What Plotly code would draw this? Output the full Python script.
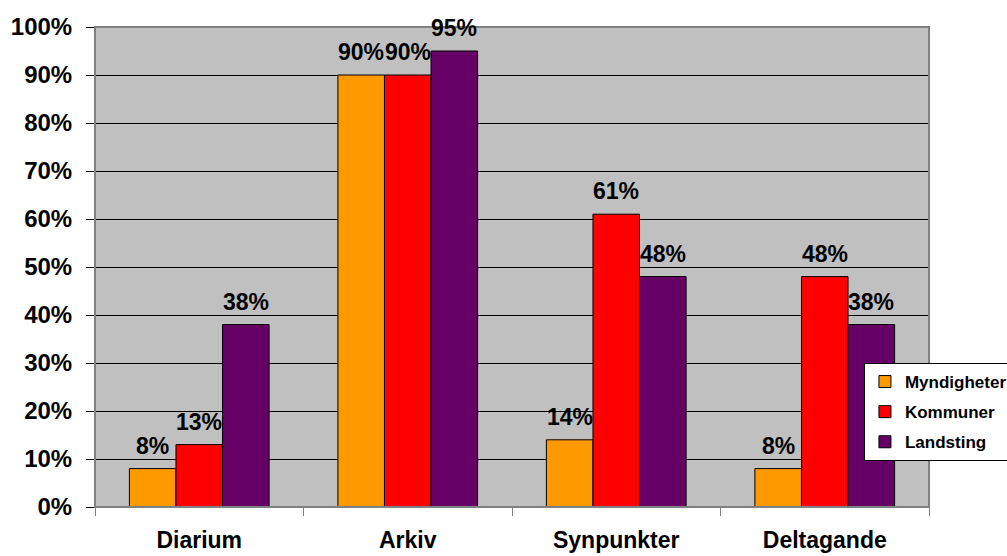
import plotly.graph_objects as go

categories = ["Diarium", "Arkiv", "Synpunkter", "Deltagande"]
myndigheter = [8, 90, 14, 8]
kommuner = [13, 90, 61, 48]
landsting = [38, 95, 48, 38]
y_ticks = [0, 10, 20, 30, 40, 50, 60, 70, 80, 90, 100]

series = [
    ("Myndigheter", myndigheter, "#FF9900"),
    ("Kommuner", kommuner, "#FF0000"),
    ("Landsting", landsting, "#660066"),
]

FONT = "Arial, Liberation Sans, sans-serif"
L, R, T, B = 95, 78, 27, 49
W, H = 1007, 556
plot_w = W - L - R
bargap = 0.33
bar_px = plot_w / len(categories) * (1 - bargap) / len(series)

fig = go.Figure()
annotations = []
for i, (name, vals, color) in enumerate(series):
    fig.add_trace(go.Bar(
        name=name, x=categories, y=vals, legendgroup=name,
        marker=dict(color=color, line=dict(color="black", width=1)),
    ))
    for c, v in zip(categories, vals):
        annotations.append(dict(
            x=c, y=v, xref="x", yref="y", text=f"<b>{v}%</b>",
            showarrow=False, yanchor="bottom", xanchor="center",
            xshift=(i - 1) * bar_px, yshift=8,
            font=dict(family=FONT, size=23, color="black"),
        ))

fig.update_layout(
    width=W, height=H, autosize=False,
    margin=dict(l=L, r=R, t=T, b=B, autoexpand=False),
    paper_bgcolor="white", plot_bgcolor="#C0C0C0",
    barmode="group", bargap=bargap, bargroupgap=0,
    font=dict(family=FONT, color="black"),
    annotations=annotations,
    legend=dict(
        x=0.922, y=0.30, xanchor="left", yanchor="top",
        bgcolor="white", bordercolor="black", borderwidth=1,
        font=dict(family=FONT, size=17, color="black", weight="bold"),
        itemwidth=30, tracegroupgap=5,
    ),
    shapes=[dict(type="rect", xref="paper", yref="paper", x0=0, x1=1, y0=0, y1=1,
                 line=dict(color="#808080", width=2), layer="above")],
)
fig.update_yaxes(
    range=[0, 100], tickvals=y_ticks, ticktext=[f"{v}%" for v in y_ticks],
    showgrid=True, gridcolor="black", gridwidth=1,
    ticks="outside", ticklen=8, tickcolor="black", ticklabelstandoff=9,
    tickfont=dict(family=FONT, size=24, color="black", weight="bold"),
    zeroline=False, showline=False, automargin=False,
)
fig.update_xaxes(
    tickson="boundaries", ticks="outside", ticklen=8, tickcolor="#808080",
    ticklabelstandoff=12,
    tickfont=dict(family=FONT, size=23, color="black", weight="bold"),
    showline=True, linecolor="black", linewidth=1, showgrid=False,
    automargin=False,
)
fig.write_html(
    "out.html",
    config={"displayModeBar": False},
    post_script="document.body.style.margin='0';document.body.style.overflow='hidden';",
)
